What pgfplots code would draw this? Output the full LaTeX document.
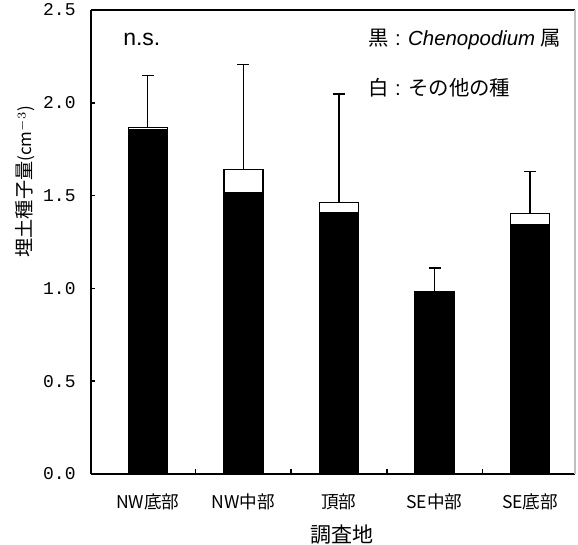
\documentclass[border=0pt]{standalone}
\usepackage{fontspec}
\setmainfont{Liberation Sans}
\newfontfamily\jp{Noto Sans CJK JP}
\newfontfamily\mono{Liberation Mono}
\usepackage{pgfplots}
\pgfplotsset{compat=1.18}
\pgfplotstableread{
x total errp black
0 1.868 0.280 1.855
1 1.640 0.566 1.514
2 1.463 0.585 1.408
3 0.983 0.126 0.983
4 1.402 0.228 1.343
}\data
\begin{document}
\begin{tikzpicture}
\begin{axis}[
  scale only axis, width=242pt, height=232pt,
  xmin=-0.594, xmax=4.47, ymin=0, ymax=2.5,
  axis x line=box, axis y line=left, axis line style={-, black, line width=0.8pt},
  ybar, bar width=19.5pt,
  tick align=inside,
  ytick={0,0.5,1,1.5,2,2.5},
  ytick pos=left, xtick pos=lower,
  major tick length=2.2pt,
  yticklabel style={inner sep=0pt, xshift=-7.5pt,
    /pgf/number format/fixed, /pgf/number format/fixed zerofill,
    /pgf/number format/precision=1, /pgf/number format/assume math mode=true},
  yticklabel={\mono\fontsize{9}{10}\selectfont\pgfmathprintnumber{\tick}},
  xtick={0,1,2,3,4},
  xticklabels={NW底部,NW中部,頂部,SE中部,SE底部},
  xticklabel style={font=\jp\fontsize{8.8}{10}\selectfont, anchor=base, inner sep=0pt, yshift=-17.4pt},
  major x tick style={draw=none},
  minor xtick={0.5,1.5,2.5,3.5},
  minor x tick style={black, line width=0.8pt},
  minor tick length=2.5pt,
  y tick style={black, line width=0.8pt},
  xlabel={\jp\fontsize{10.5}{12}\selectfont 調査地},
  xlabel style={at={(rel axis cs:0.5,0)}, anchor=center, inner sep=0pt, yshift=-30.5pt, xshift=4.5pt},
  ylabel={\jp\fontsize{9.6}{11}\selectfont 埋土種子量\fontsize{8.5}{10}\selectfont(cm$^{-3}$)},
  ylabel style={at={(rel axis cs:0,0.63)}, anchor=center, yshift=33pt},
  clip=false,
]
\addplot[fill=white, draw=black, line width=0.7pt, bar shift=0pt,
  error bars/.cd, y dir=plus, y explicit,
  error bar style={black, line width=0.7pt},
  error mark options={black, line width=0.7pt, mark size=3pt, rotate=90}]
  table[x=x, y=total, y error=errp] {\data};
\addplot[fill=black, draw=black, line width=0.7pt, bar shift=0pt]
  table[x=x, y=black] {\data};
\node[anchor=west, font=\fontsize{11.5}{13}\selectfont] at (axis cs:-0.33,2.34) {n.s.};
\node[anchor=west, font=\fontsize{10.2}{12}\selectfont] at (axis cs:2.24,2.34) {{\jp 黒} : \textit{Chenopodium} {\jp 属}};
\node[anchor=west, font=\fontsize{10.2}{12}\selectfont] at (axis cs:2.24,2.08) {{\jp 白} : {\jp その他の種}};
\end{axis}
\draw[gray!50, line width=0.6pt] (current axis.south east) -- (current axis.north east);
\path ([xshift=-45.5pt,yshift=-35.5pt]current axis.south west) ([xshift=1.5pt,yshift=5pt]current axis.north east);
\end{tikzpicture}
\end{document}
